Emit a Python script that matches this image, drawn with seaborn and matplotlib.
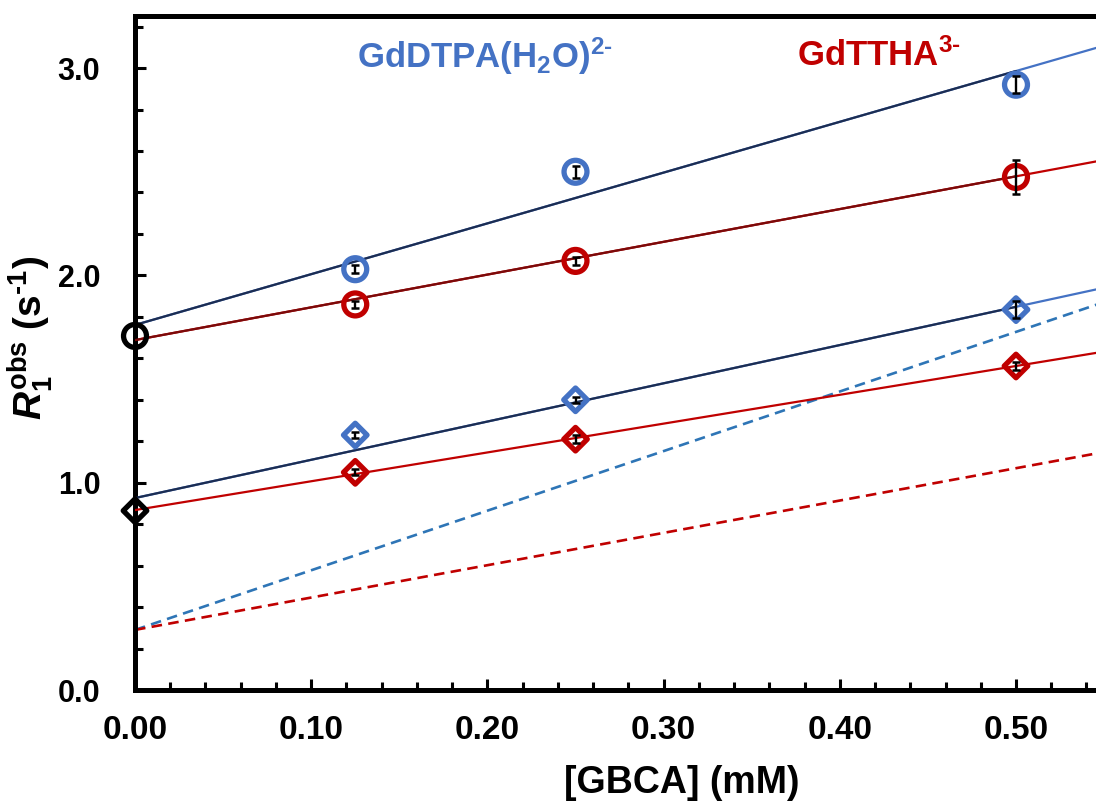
import numpy as np
import pandas as pd
import matplotlib
matplotlib.use("Agg")
import matplotlib.pyplot as plt
from matplotlib.ticker import MultipleLocator, FormatStrFormatter
import seaborn as sns

# ---- measured relaxation rates R1 (s^-1) vs contrast-agent concentration ----
conc = [0.125, 0.25, 0.50]                      # [GBCA] (mM)

dtpa_circle = [2.03, 2.50, 2.92]                # GdDTPA(H2O)2-, circles
dtpa_circle_err = [0.02, 0.03, 0.04]
ttha_circle = [1.86, 2.07, 2.475]               # GdTTHA3-, circles
ttha_circle_err = [0.015, 0.02, 0.08]

dtpa_diamond = [1.23, 1.40, 1.835]              # GdDTPA(H2O)2-, diamonds
dtpa_diamond_err = [0.015, 0.015, 0.04]
ttha_diamond = [1.05, 1.21, 1.563]              # GdTTHA3-, diamonds
ttha_diamond_err = [0.015, 0.02, 0.02]

blank_circle = 1.708                            # no agent, circles
blank_diamond = 0.865                           # no agent, diamonds

# ---- linear fits: (intercept, slope) ----
fit_dtpa_circle = (1.761, 2.45)
fit_ttha_circle = (1.688, 1.58)
fit_dtpa_diamond = (0.926, 1.845)
fit_ttha_diamond = (0.868, 1.39)
fit_dtpa_dashed = (0.29, 2.875)
fit_ttha_dashed = (0.29, 1.56)

x_ticks = [0.00, 0.10, 0.20, 0.30, 0.40, 0.50]
y_ticks = [0.0, 1.0, 2.0, 3.0]

BLUE = "#4472C4"
RED = "#C00000"
NAVY = "#1C2D52"
DARKRED = "#7A0A0A"
DASHBLUE = "#2E75B6"

sns.set_theme(style="ticks")
plt.rcParams["font.family"] = ["Liberation Sans", "DejaVu Sans"]
plt.rcParams["font.weight"] = "bold"
plt.rcParams["text.color"] = "black"
plt.rcParams["axes.labelcolor"] = "black"
plt.rcParams["xtick.color"] = "black"
plt.rcParams["ytick.color"] = "black"
plt.rcParams["mathtext.fontset"] = "custom"
plt.rcParams["mathtext.rm"] = "Liberation Sans:bold"
plt.rcParams["mathtext.bf"] = "Liberation Sans:bold"
plt.rcParams["mathtext.it"] = "Liberation Sans:bold:italic"
plt.rcParams["mathtext.sf"] = "Liberation Sans:bold"

fig = plt.figure(figsize=(10.96, 8.07), dpi=100)
ax = fig.add_axes([135 / 1096, 117 / 807, 1057.2 / 1096, 673.7 / 807])

XMAX = 0.60
ax.set_xlim(0, XMAX)
ax.set_ylim(0, 3.25)


def fit_line(fit, x0, x1, color, lw=1.6, ls="-", z=2):
    xs = np.array([x0, x1])
    df = pd.DataFrame({"x": xs, "y": fit[0] + fit[1] * xs})
    sns.lineplot(data=df, x="x", y="y", color=color, linewidth=lw,
                 linestyle=ls, ax=ax, zorder=z, legend=False)


# dashed reference lines
fit_line(fit_dtpa_dashed, 0, XMAX, DASHBLUE, lw=1.9, ls=(0, (4, 2.4)))
fit_line(fit_ttha_dashed, 0, XMAX, RED, lw=1.9, ls=(0, (4, 2.4)))

# fitted lines: bright extrapolation underneath, darker fitted span on top
fit_line(fit_dtpa_circle, 0, XMAX, BLUE)
fit_line(fit_dtpa_circle, 0, conc[-1], NAVY, z=3)
fit_line(fit_ttha_circle, 0, XMAX, RED)
fit_line(fit_ttha_circle, 0, conc[-1], DARKRED, z=3)
fit_line(fit_dtpa_diamond, 0, XMAX, BLUE)
fit_line(fit_dtpa_diamond, 0, conc[-1], NAVY, z=3)
fit_line(fit_ttha_diamond, 0, XMAX, RED, z=3)


# data markers
def markers(ys, color, marker, size, z=4):
    df = pd.DataFrame({"x": conc, "y": ys})
    sns.scatterplot(data=df, x="x", y="y", marker=marker, s=size ** 2,
                    facecolor="none", edgecolor=color, linewidth=3.8,
                    ax=ax, zorder=z, legend=False, clip_on=False)


markers(dtpa_circle, BLUE, "o", 16.5)
markers(ttha_circle, RED, "o", 16.5)
markers(dtpa_diamond, BLUE, "D", 12)
markers(ttha_diamond, RED, "D", 12)

blank = pd.DataFrame({"x": [0.0], "y": [blank_circle]})
sns.scatterplot(data=blank, x="x", y="y", marker="o", s=16.5 ** 2,
                facecolor="none", edgecolor="black", linewidth=3.8,
                ax=ax, zorder=5, legend=False, clip_on=False)
blank = pd.DataFrame({"x": [0.0], "y": [blank_diamond]})
sns.scatterplot(data=blank, x="x", y="y", marker="D", s=12 ** 2,
                facecolor="none", edgecolor="black", linewidth=3.8,
                ax=ax, zorder=5, legend=False, clip_on=False)

# error bars
for ys, errs in [(dtpa_circle, dtpa_circle_err), (ttha_circle, ttha_circle_err),
                 (dtpa_diamond, dtpa_diamond_err), (ttha_diamond, ttha_diamond_err)]:
    ax.errorbar(conc, ys, yerr=errs, fmt="none", ecolor="black",
                elinewidth=1.7, capsize=3.2, capthick=1.8, zorder=6)

# series labels
ax.text(0.210, 0.923, r"GdDTPA(H$_{2}$O)$^{2\text{-}}$", transform=ax.transAxes,
        color=BLUE, fontsize=25, fontweight="bold", ha="left", va="baseline")
ax.text(0.6263, 0.927, r"GdTTHA$^{3\text{-}}$", transform=ax.transAxes,
        color=RED, fontsize=25, fontweight="bold", ha="left", va="baseline")

# axes styling
ax.xaxis.set_major_locator(plt.FixedLocator(x_ticks))
ax.xaxis.set_minor_locator(MultipleLocator(0.02))
ax.yaxis.set_major_locator(plt.FixedLocator(y_ticks))
ax.yaxis.set_minor_locator(MultipleLocator(0.2))
ax.xaxis.set_major_formatter(FormatStrFormatter("%.2f"))
ax.yaxis.set_major_formatter(FormatStrFormatter("%.1f"))

ax.tick_params(axis="both", which="major", direction="in", length=8,
               width=2.2, color="black", labelcolor="black")
ax.tick_params(axis="both", which="minor", direction="in", length=5.5,
               width=2.2, color="black")
ax.tick_params(axis="x", which="major", labelsize=24, pad=18)
ax.tick_params(axis="y", which="major", labelsize=22, pad=25)
ax.tick_params(top=False, right=False, which="both")
for lab in ax.get_xticklabels() + ax.get_yticklabels():
    lab.set_fontweight("bold")

for side in ["left", "bottom", "top", "right"]:
    ax.spines[side].set_linewidth(3.6)
    ax.spines[side].set_color("black")

ax.set_xlabel("[GBCA] (mM)", fontsize=27, fontweight="bold", color="black")
ax.xaxis.set_label_coords((682 - 135) / 1057.2, -0.111)
ax.set_ylabel(r"$\mathit{R}_{1}^{\mathrm{obs}}$ (s$^{\text{-}1}$)",
              fontsize=28, fontweight="bold", color="black")
ax.yaxis.label.set_va("center")
ax.yaxis.set_label_coords((30 - 135) / 1057.2, (690 - 338) / 673.7)

fig.savefig("out.png", dpi=100)
